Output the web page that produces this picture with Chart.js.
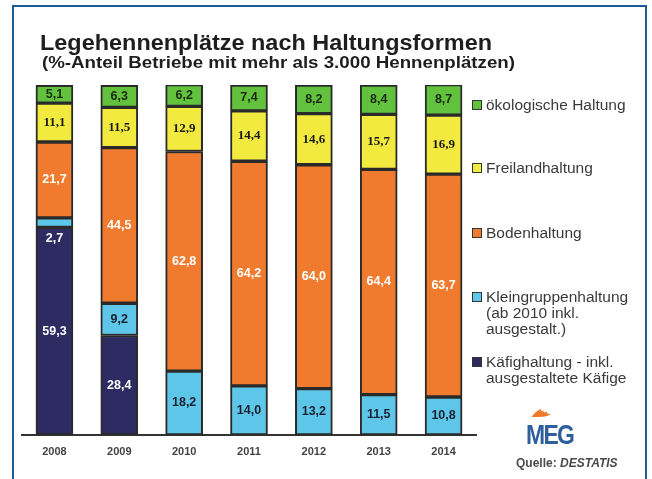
<!DOCTYPE html>
<html>
<head>
<meta charset="utf-8">
<script src="https://cdn.jsdelivr.net/npm/chart.js@4"></script>
<style>
  html, body { margin:0; padding:0; background:#fff; }
  #wrap { position:relative; width:652px; height:479px; overflow:hidden; background:#fff; }
  #frame { position:absolute; left:12px; top:5px; width:635px; height:490px; border:2px solid #1d5b98; box-sizing:border-box; }
  canvas { position:absolute; left:0; top:0; }
  .t { position:absolute; white-space:nowrap; font-family:"Liberation Sans", Arial, sans-serif; color:#1e1e1e; transform-origin:0 50%; }
  #title { left:40px; top:30px; font-size:22px; font-weight:bold; line-height:26px; }
  #sub { left:42px; top:54px; font-size:16px; font-weight:bold; line-height:18px; font-family:"Liberation Sans Narrow","Liberation Sans",sans-serif; }
  .leg { position:absolute; left:472px; font-family:"Liberation Sans", Arial, sans-serif; font-size:15.5px; line-height:16px; color:#3a3a3a; }
  .leg .box { position:absolute; left:0; top:3px; width:8px; height:8px; border:1.5px solid #333; box-sizing:content-box; }
  .leg .txt { position:absolute; left:14px; top:0; white-space:nowrap; }
  #meg { position:absolute; left:526px; top:421px; font-family:"Liberation Sans", Arial, sans-serif; font-weight:bold; font-size:27px; color:#2d5f9e; letter-spacing:-2px; line-height:28px; transform-origin:0 50%; transform:scaleX(0.85); }
  #flame { position:absolute; left:530px; top:406px; width:22px; height:12px; }
  #src { position:absolute; left:516px; top:456px; font-family:"Liberation Sans", Arial, sans-serif; font-weight:bold; font-size:12px; color:#4a4a4a; }
</style>
</head>
<body>
<div id="wrap">
  <div id="frame"></div>
  <canvas id="c" width="652" height="479"></canvas>
  <div class="t" id="title">Legehennenplätze nach Haltungsformen</div>
  <div class="t" id="sub">(%-Anteil Betriebe mit mehr als 3.000 Hennenplätzen)</div>
  <div id="legend"></div>
  <svg id="flame" viewBox="0 0 26 12"><path d="M2 12 C6 6 10 4 14 2 C12 5 13 6 16 4 C15 7 18 7 20 5 C20 8 22 9 25 8 C22 11 16 12 2 12 Z" fill="#ee7a2a"/></svg>
  <div id="meg">MEG</div>
  <div id="src">Quelle: <i>DESTATIS</i></div>
</div>
<script>
const years = ["2008","2009","2010","2011","2012","2013","2014"];
const kaefig = [59.3, 28.4, null, null, null, null, null];
const kleingruppe = [2.7, 9.2, 18.2, 14.0, 13.2, 11.5, 10.8];
const boden = [21.7, 44.5, 62.8, 64.2, 64.0, 64.4, 63.7];
const freiland = [11.1, 11.5, 12.9, 14.4, 14.6, 15.7, 16.9];
const oeko = [5.1, 6.3, 6.2, 7.4, 8.2, 8.4, 8.7];
const seriesNames = [
  "Käfighaltung - inkl.\nausgestaltete Käfige",
  "Kleingruppenhaltung\n(ab 2010 inkl.\nausgestalt.)",
  "Bodenhaltung",
  "Freilandhaltung",
  "ökologische Haltung"
];
const colors = ["#2e2b63", "#5ec6e8", "#f07b2e", "#f2ea3e", "#62c23e"];
const labelColors = ["#ffffff", "#1a2030", "#ffffff", "#1a1a1a", "#1a2a10"];
const labelFonts = [
  "bold 12.5px 'Liberation Sans', Arial, sans-serif",
  "bold 12.5px 'Liberation Sans', Arial, sans-serif",
  "bold 12.5px 'Liberation Sans', Arial, sans-serif",
  "bold 13px 'Liberation Serif', serif",
  "bold 12.5px 'Liberation Sans', Arial, sans-serif"
];
const legendY = [362, 297, 233, 168, 105];

const seriesData = [kaefig, kleingruppe, boden, freiland, oeko];

const valueLabels = {
  id: 'valueLabels',
  afterDatasetsDraw(chart) {
    const ctx = chart.ctx;
    ctx.save();
    ctx.textAlign = 'center';
    ctx.textBaseline = 'middle';
    chart.data.datasets.forEach((ds, di) => {
      const meta = chart.getDatasetMeta(di);
      meta.data.forEach((el, i) => {
        const v = ds.data[i];
        if (v === null || v === undefined) return;
        const p = el.getProps(['x','y','base'], true);
        const h = Math.abs(p.base - p.y);
        let y = (p.y + p.base) / 2;
        let col = labelColors[di];
        if (h < 14) { y = p.base + 11; col = '#ffffff'; }
        ctx.font = labelFonts[di];
        ctx.fillStyle = col;
        ctx.fillText(v.toFixed(1).replace('.', ','), p.x, y);
      });
    });
    ctx.restore();
  }
};

new Chart(document.getElementById('c'), {
  type: 'bar',
  data: {
    labels: years,
    datasets: seriesData.map((d, i) => ({
      label: seriesNames[i],
      data: d,
      backgroundColor: colors[i],
      borderColor: '#2a2a2a',
      borderWidth: 2,
      borderSkipped: false,
      barThickness: 37
    }))
  },
  options: {
    responsive: false,
    animation: false,
    layout: { padding: { left: 22, right: 176, top: 85, bottom: 9 } },
    plugins: { legend: { display: false }, title: { display: false }, tooltip: { enabled: false } },
    scales: {
      x: {
        stacked: true,
        grid: { display: false, drawTicks: false },
        border: { display: true, color: '#333', width: 2 },
        ticks: { color: '#444', padding: 11, font: { family: "'Liberation Sans', Arial, sans-serif", size: 11, weight: 'bold' } }
      },
      y: { stacked: true, display: false, min: 0, max: 100 }
    }
  },
  plugins: [valueLabels]
});

// legend
const leg = document.getElementById('legend');
seriesNames.forEach((n, i) => {
  const d = document.createElement('div');
  d.className = 'leg';
  d.style.top = (legendY[i] - 8) + 'px';
  const b = document.createElement('div');
  b.className = 'box';
  b.style.background = colors[i];
  const t = document.createElement('div');
  t.className = 'txt';
  t.innerHTML = n.split('\n').join('<br>');
  d.appendChild(b); d.appendChild(t);
  leg.appendChild(d);
});

// fit title widths
function fitW(id, w) {
  const el = document.getElementById(id);
  const cur = el.getBoundingClientRect().width;
  el.style.transform = 'scaleX(' + (w / cur) + ')';
}
fitW('title', 452);
fitW('sub', 473);
</script>
</body>
</html>
